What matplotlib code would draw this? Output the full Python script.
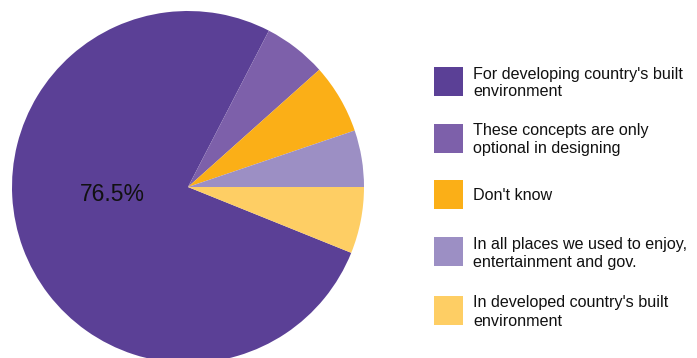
import matplotlib.pyplot as plt
from matplotlib.patches import Rectangle

plt.rcParams['font.family'] = ['Liberation Sans', 'DejaVu Sans']

# Survey answers (percent)
labels = ["For developing country's built\nenvironment",
          "These concepts are only\noptional in designing",
          "Don't know",
          "In all places we used to enjoy,\nentertainment and gov.",
          "In developed country's built\nenvironment"]
shares = [76.5, 5.8, 6.4, 5.2, 6.1]
colors = ['#5B4096', '#7D60AA', '#FBAF17', '#9C8FC4', '#FECE64']

W, H = 697, 358
fig = plt.figure(figsize=(W / 100, H / 100), dpi=100, facecolor='white')

# pie centred at (188, 187) px with radius 176 px
cx, cy, r = 188, 187, 176
ax = fig.add_axes([(cx - r) / W, (H - cy - r) / H, 2 * r / W, 2 * r / H])
wedges, _ = ax.pie(shares, colors=colors, counterclock=False,
                   startangle=-360 * shares[-1] / 100, radius=1,
                   wedgeprops=dict(linewidth=0))
ax.set_xlim(-1, 1)
ax.set_ylim(-1, 1)
ax.set_aspect('equal')
ax.axis('off')

# label for the biggest slice
ax.text(-0.43, -0.045, f"{shares[0]}%", ha='center', va='center',
        fontsize=16.5, color='#111111')

# hand-placed legend
box_x, box = 434, 29
tops = [67, 124, 180, 237, 296]
for top, lab, col in zip(tops, labels, colors):
    fig.patches.append(Rectangle((box_x / W, 1 - (top + box) / H), box / W, box / H,
                                 transform=fig.transFigure, facecolor=col,
                                 edgecolor='none'))
    fig.text(473 / W, 1 - (top + box / 2 + 1.5) / H, lab, ha='left', va='center',
             fontsize=11.6, color='#111111', linespacing=1.25)

fig.savefig('out.png', dpi=100, facecolor='white')
